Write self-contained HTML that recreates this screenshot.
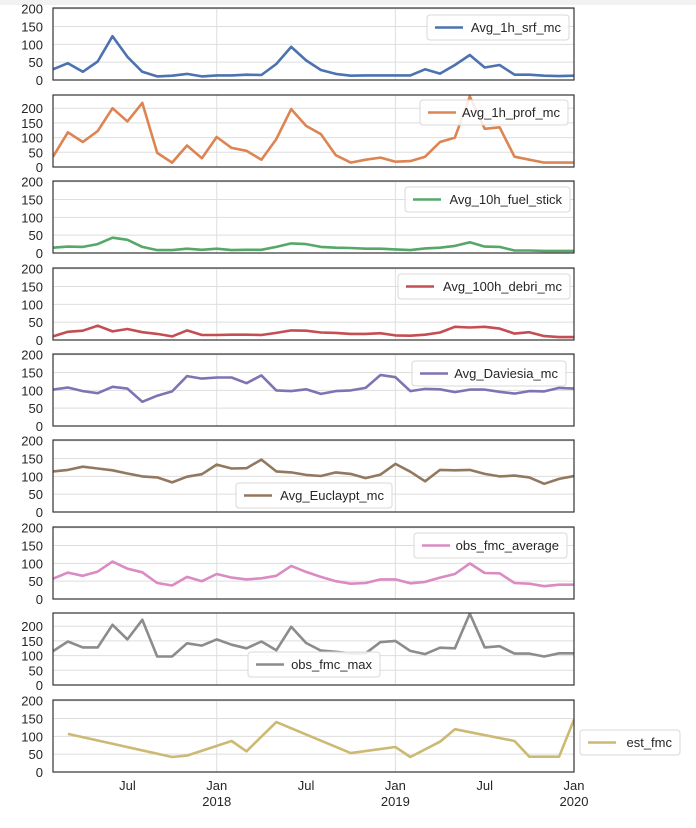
<!DOCTYPE html>
<html><head><meta charset="utf-8"><style>
body{margin:0;background:#fff;width:696px;height:823px;overflow:hidden;font-family:"Liberation Sans",sans-serif}
svg text{font-family:"Liberation Sans",sans-serif;fill:#262626}
</style></head><body>
<svg id="c" width="696" height="823" xmlns="http://www.w3.org/2000/svg"></svg>
<script>
const NS="http://www.w3.org/2000/svg";
const names=["Avg_1h_srf_mc","Avg_1h_prof_mc","Avg_10h_fuel_stick","Avg_100h_debri_mc","Avg_Daviesia_mc","Avg_Euclaypt_mc","obs_fmc_average","obs_fmc_max","est_fmc"];
const colors=["#4c72b0","#dd8452","#55a868","#c44e52","#8172b3","#937860","#da8bc3","#8c8c8c","#ccb974"];
const srf=[30,47,23,52,123,65,23,10,12,17,10,13,13,15,14,45,93,55,28,17,12,13,13,13,13,30,18,42,70,35,42,15,15,12,11,12];
const prof=[35,118,85,122,200,155,218,48,15,73,30,102,65,55,25,95,197,140,112,40,15,25,32,18,20,35,85,100,240,130,135,35,25,15,15,15];
const stick=[15,18,17,25,43,37,17,8,8,12,9,12,8,9,9,17,27,25,17,15,14,12,12,10,8,13,15,20,30,18,17,7,7,6,6,6];
const debri=[10,23,26,40,24,31,22,17,10,27,14,14,15,15,14,20,27,26,21,20,17,17,19,13,12,15,21,37,35,37,32,18,22,11,8,8];
const davi=[102,108,98,92,110,105,68,85,97,140,133,136,136,120,142,100,98,103,90,98,100,107,143,137,98,104,103,95,102,102,96,91,98,97,107,105];
const euc=[114,118,127,122,117,108,100,97,83,99,106,133,122,123,147,114,111,104,101,111,107,95,105,135,113,86,118,117,118,107,100,102,97,79,93,101];
const obsAvg=[57,74,65,77,105,85,75,45,38,62,50,70,60,55,58,65,93,76,62,50,43,45,55,55,44,48,60,70,100,73,72,45,43,36,40,40];
const obsMax=[115,148,128,128,205,155,222,97,97,142,134,155,137,125,148,118,198,143,117,113,108,108,146,150,116,105,127,125,243,128,132,107,107,97,108,108];
const estMonths=[1,8,9,12,13,15,20,23,24,26,27,31,32,34,35];
const estVals=[107,42,46,87,58,140,53,70,42,85,120,87,43,43,147];
const yTicks=[0,50,100,150,200];
const xTickLabels=[["Jul",""],["Jan","2018"],["Jul",""],["Jan","2019"],["Jul",""],["Jan","2020"]];
const xTickMonths=[5,11,17,23,29,35];
const series=[srf,prof,stick,debri,davi,euc,obsAvg,obsMax,null];
const ymaxs=[202,245,202,202,202,202,202,245,202];
const tops=[8,95,181,268,354,440,527,613,700];
const legends=[[427,15,142],[420,100,148],[405,187,165],[398,274,172],[412,361,154],[236,483,156],[414,533,153],[248,652,132],[580,730,100]];
const X0=53,X1=574,H=72,NM=35;
const svg=document.getElementById('c');
function el(t,a,p){const e=document.createElementNS(NS,t);for(const k in a)e.setAttribute(k,a[k]);(p||svg).appendChild(e);return e;}
const xs=m=>X0+(X1-X0)*m/NM;
el('rect',{x:0,y:0,width:696,height:5,fill:'#f2f2f2'});
for(let p=0;p<9;p++){
  const g=el('g',{});
  
  
  const top=tops[p],bot=top+H,ym=ymaxs[p];
  const ys=v=>bot-v/ym*H;
  yTicks.forEach(t=>{
    el('line',{x1:X0,x2:X1,y1:ys(t),y2:ys(t),stroke:'#dedede','stroke-width':1},g);
    const tx=el('text',{x:43,y:ys(t)+5,'text-anchor':'end','font-size':13},g);tx.textContent=t;
    
    
  });
  [11,23].forEach(m=>el('line',{x1:xs(m),x2:xs(m),y1:top,y2:bot,stroke:'#dedede','stroke-width':1},g));
  let pts;
  if(series[p]) pts=series[p].map((v,i)=>xs(i).toFixed(1)+','+ys(v).toFixed(1));
  else pts=estMonths.map((m,i)=>xs(m).toFixed(1)+','+ys(estVals[i]).toFixed(1));
  el('clipPath',{id:'cp'+p},g);
  el('rect',{x:X0,y:top,width:X1-X0,height:H},g.lastChild);
  const ln=el('polyline',{points:pts.join(' '),fill:'none',stroke:colors[p],'stroke-width':2.6,'stroke-linejoin':'round','clip-path':'url(#cp'+p+')'},g);
  
  
  el('rect',{x:X0,y:top,width:X1-X0,height:H,fill:'none',stroke:'#333','stroke-width':1.2},g);
  const [lx,ly,lw]=legends[p];
  const lg=el('g',{},g);
  
  
  el('rect',{x:lx,y:ly,width:lw,height:25,rx:3,fill:'#fff','fill-opacity':0.85,stroke:'#d8d8d8'},lg);
  el('line',{x1:lx+8,x2:lx+36,y1:ly+12.5,y2:ly+12.5,stroke:colors[p],'stroke-width':2.6},lg);
  const lt=el('text',{x:lx+lw-8,y:ly+17,'text-anchor':'end','font-size':13},lg);lt.textContent=names[p];
}
xTickMonths.forEach((m,i)=>{
  const t=el('text',{x:xs(m),y:790,'text-anchor':'middle','font-size':13});t.textContent=xTickLabels[i][0];
  
  
  if(xTickLabels[i][1]){const t2=el('text',{x:xs(m),y:806,'text-anchor':'middle','font-size':13});t2.textContent=xTickLabels[i][1];
  
  }
});
</script>
</body></html>
